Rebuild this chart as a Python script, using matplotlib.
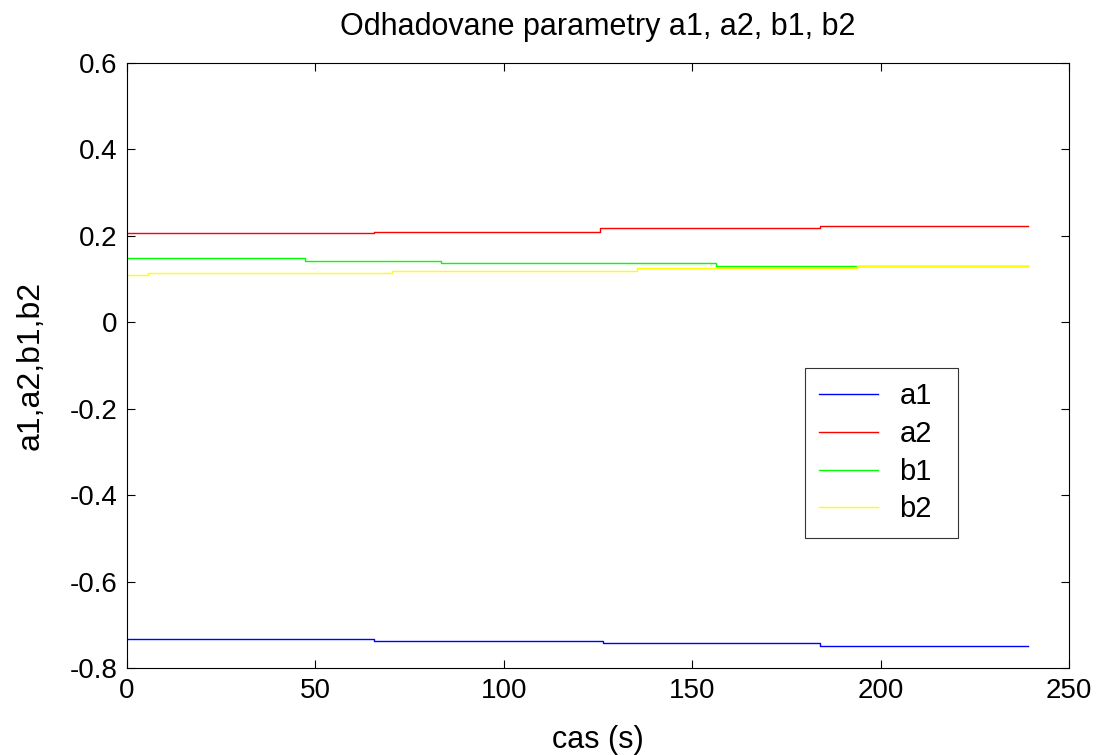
import matplotlib
matplotlib.use("Agg")
import matplotlib.pyplot as plt

# step-wise parameter estimates: change times (s) and held values
t_a1 = [0, 65.6, 126.2, 184.0, 239.0]
a1 = [-0.732, -0.737, -0.743, -0.748, -0.748]

t_a2 = [0, 65.5, 125.5, 184.0, 239.0]
a2 = [0.206, 0.210, 0.218, 0.2225, 0.2225]

t_b1 = [0, 47.2, 83.3, 156.4, 239.0]
b1 = [0.149, 0.1425, 0.137, 0.131, 0.131]

t_b2 = [0, 5.6, 70.2, 135.4, 193.8, 239.0]
b2 = [0.109, 0.113, 0.1195, 0.1257, 0.131, 0.131]

plt.rcParams.update({
    "font.family": "Liberation Sans",
    "font.size": 20,
})

fig = plt.figure(figsize=(11.07, 7.55), dpi=100)
ax = fig.add_axes([0.1147, 0.1152, 0.851, 0.8014])

ax.step(t_a1, a1, where="post", color="#0000ff", lw=1.0, label="a1")
ax.step(t_a2, a2, where="post", color="#ff0000", lw=1.0, label="a2")
ax.step(t_b1, b1, where="post", color="#00ff00", lw=1.0, label="b1")
ax.step(t_b2, b2, where="post", color="#ffff00", lw=1.0, label="b2")

ax.set_xlim(0, 250)
ax.set_ylim(-0.8, 0.6)
ax.set_xticks([0, 50, 100, 150, 200, 250])
ax.set_yticks([-0.8, -0.6, -0.4, -0.2, 0, 0.2, 0.4, 0.6])
ax.set_yticklabels(["-0.8", "-0.6", "-0.4", "-0.2", "0", "0.2", "0.4", "0.6"])
ax.tick_params(direction="in", length=6, width=0.8, pad=7, top=True, right=True,
               labelsize=20)
for sp in ax.spines.values():
    sp.set_linewidth(0.8)

ax.set_title("Odhadovane parametry a1, a2, b1, b2", fontsize=22, pad=20)
ax.set_xlabel("cas (s)", fontsize=22, labelpad=15)
ax.set_ylabel("a1,a2,b1,b2", fontsize=23, labelpad=17)

leg = ax.legend(loc="upper left", bbox_to_anchor=(0.7194, 0.213, 0.1626, 0.283),
                mode="expand", fontsize=21,
                frameon=True, fancybox=False, edgecolor="black",
                handlelength=2.0, handletextpad=0.75, labelspacing=0.33,
                borderpad=0.5, borderaxespad=0)
leg.get_frame().set_linewidth(0.8)

fig.savefig("out.png")
